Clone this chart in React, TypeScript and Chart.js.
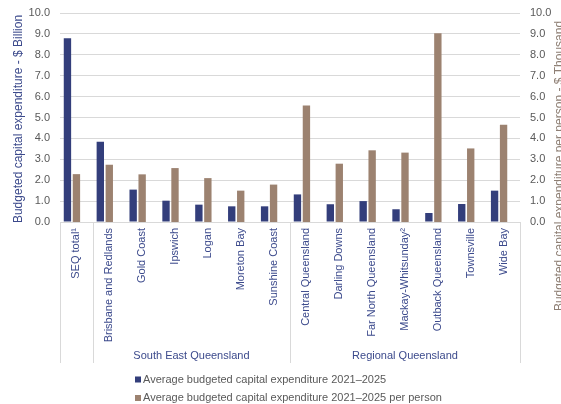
import React, { useEffect, useRef } from 'react';
import { Chart, registerables } from 'chart.js';

Chart.register(...registerables);

const categories = [
  'SEQ total¹',
  'Brisbane and Redlands',
  'Gold Coast',
  'Ipswich',
  'Logan',
  'Moreton Bay',
  'Sunshine Coast',
  'Central Queensland',
  'Darling Downs',
  'Far North Queensland',
  'Mackay-Whitsunday²',
  'Outback Queensland',
  'Townsville',
  'Wide Bay',
];
const capexBillion = [8.79, 3.84, 1.55, 1.02, 0.83, 0.75, 0.75, 1.32, 0.85, 1.0, 0.61, 0.43, 0.86, 1.5];
const capexPerPersonThousand = [2.29, 2.74, 2.28, 2.58, 2.1, 1.5, 1.79, 5.58, 2.79, 3.43, 3.32, 9.03, 3.52, 4.65];
const seriesLabels = [
  'Average budgeted capital expenditure 2021–2025',
  'Average budgeted capital expenditure 2021–2025 per person',
];
const groupLabels = ['South East Queensland', 'Regional Queensland'];
const groupStart = [1, 7];
const groupEnd = [7, 14];
const separatorIndex = [0, 1, 7, 14];
const leftTitle = 'Budgeted capital expenditure - $ Billion';
const rightTitle = 'Budgeted capital expenditure per person - $ Thousand';
const yMin = 0;
const yMax = 10;
const yStep = 1;

const NAVY = '#333E7B';
const BROWN = '#9C8270';
const NAVY_TEXT = '#3C4A8C';
const GRAY_TEXT = '#595959';
const GRID = '#D9D9D9';
const FONT = "'Liberation Sans', Arial, sans-serif";

const decorPlugin = {
  id: 'decor',
  afterDraw(chart: any) {
    const { ctx, chartArea } = chart;
    const n = categories.length;
    const w = (chartArea.right - chartArea.left) / n;
    ctx.save();
    ctx.strokeStyle = GRID;
    ctx.lineWidth = 1;
    separatorIndex.forEach((k) => {
      const px = Math.round(chartArea.left + k * w) + 0.5;
      ctx.beginPath();
      ctx.moveTo(px, chartArea.bottom);
      ctx.lineTo(px, chartArea.bottom + 141);
      ctx.stroke();
    });
    ctx.fillStyle = NAVY_TEXT;
    ctx.font = `11px ${FONT}`;
    ctx.textAlign = 'center';
    ctx.textBaseline = 'middle';
    groupLabels.forEach((g, i) => {
      const cx = chartArea.left + ((groupStart[i] + groupEnd[i]) / 2) * w;
      ctx.fillText(g, cx, 356);
    });
    ctx.save();
    ctx.font = `12px ${FONT}`;
    ctx.fillStyle = NAVY_TEXT;
    ctx.translate(22, 119);
    ctx.rotate(-Math.PI / 2);
    ctx.textAlign = 'center';
    ctx.textBaseline = 'alphabetic';
    ctx.fillText(leftTitle, 0, 0);
    ctx.restore();
    ctx.save();
    ctx.font = `12px ${FONT}`;
    ctx.fillStyle = '#8E7F74';
    ctx.translate(562.5, 166);
    ctx.rotate(-Math.PI / 2);
    ctx.textAlign = 'center';
    ctx.textBaseline = 'alphabetic';
    ctx.fillText(rightTitle, 0, 0);
    ctx.restore();
    const colors = [NAVY, BROWN];
    const rowsY = [379.5, 398];
    ctx.font = `11px ${FONT}`;
    ctx.textAlign = 'left';
    ctx.textBaseline = 'middle';
    seriesLabels.forEach((lab, i) => {
      ctx.fillStyle = colors[i];
      ctx.fillRect(135, rowsY[i] - 3, 6, 6);
      ctx.fillStyle = GRAY_TEXT;
      ctx.fillText(lab, 143, rowsY[i]);
    });
    ctx.restore();
  },
};

export default function App() {
  const ref = useRef<HTMLCanvasElement | null>(null);
  useEffect(() => {
    if (!ref.current) return;
    const chart = new Chart(ref.current, {
      type: 'bar',
      data: {
        labels: categories,
        datasets: [
          {
            label: seriesLabels[0],
            data: capexBillion,
            backgroundColor: NAVY,
            yAxisID: 'y',
            categoryPercentage: 0.82,
            barPercentage: 0.82,
          },
          {
            label: seriesLabels[1],
            data: capexPerPersonThousand,
            backgroundColor: BROWN,
            yAxisID: 'y1',
            categoryPercentage: 0.82,
            barPercentage: 0.82,
          },
          {
            label: '',
            data: categories.map(() => null),
            backgroundColor: 'rgba(0,0,0,0)',
            yAxisID: 'y',
            categoryPercentage: 0.82,
            barPercentage: 0.82,
          },
        ],
      },
      options: {
        responsive: false,
        animation: false,
        devicePixelRatio: 1,
        layout: { padding: { top: 13, bottom: 41, left: 0, right: 0 } },
        plugins: {
          legend: { display: false },
          tooltip: { enabled: false },
        },
        scales: {
          x: {
            grid: { display: false, drawTicks: false },
            border: { display: false },
            ticks: {
              autoSkip: false,
              minRotation: 90,
              maxRotation: 90,
              padding: 6,
              color: NAVY_TEXT,
              font: { family: FONT, size: 11 },
            },
            afterFit: (scale: any) => {
              scale.height = 141;
              scale.paddingLeft = 0;
              scale.paddingRight = 0;
            },
          },
          y: {
            position: 'left',
            min: yMin,
            max: yMax,
            grid: { color: GRID, drawTicks: false },
            border: { display: false },
            ticks: {
              stepSize: yStep,
              padding: 10,
              color: GRAY_TEXT,
              font: { family: FONT, size: 11 },
              callback: (v: any) => Number(v).toFixed(1),
            },
            afterFit: (scale: any) => {
              scale.width = 60;
              scale.paddingTop = 0;
              scale.paddingBottom = 0;
            },
          },
          y1: {
            position: 'right',
            min: yMin,
            max: yMax,
            grid: { display: false, drawTicks: false },
            border: { display: false },
            ticks: {
              stepSize: yStep,
              padding: 10,
              color: GRAY_TEXT,
              font: { family: FONT, size: 11 },
              callback: (v: any) => Number(v).toFixed(1),
            },
            afterFit: (scale: any) => {
              scale.width = 41;
              scale.paddingTop = 0;
              scale.paddingBottom = 0;
            },
          },
        },
      },
      plugins: [decorPlugin],
    } as any);
    return () => chart.destroy();
  }, []);
  return (
    <div style={{ position: 'absolute', left: 0, top: 0, width: 561, height: 404, background: '#fff' }}>
      <canvas ref={ref} width={561} height={404} style={{ width: 561, height: 404, display: 'block' }} />
    </div>
  );
}
